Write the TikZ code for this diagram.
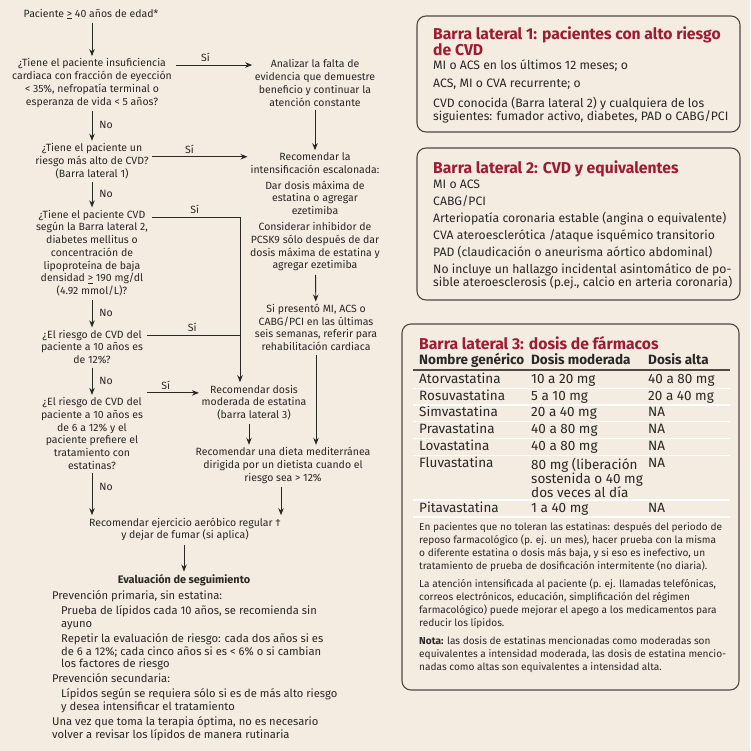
\documentclass[tikz,border=0pt]{standalone}
\usepackage{fontspec}
\setmainfont{Fira Sans}
\usetikzlibrary{arrows.meta, positioning}

\definecolor{pagebg}{HTML}{F4EBE1}
\definecolor{inkgray}{HTML}{2A2725}
\definecolor{boxline}{HTML}{4F4843}
\definecolor{titlered}{HTML}{9C1C31}

\begin{document}
\begin{tikzpicture}[
      x=1pt, y=-1pt,
      >={Stealth[length=7pt, width=5.5pt]},
      every node/.style={text=inkgray},
      flowtext/.style={align=center, inner sep=1.5pt, font=\fontsize{10.5}{12.7}\selectfont},
      flowarrow/.style={->, draw=inkgray, line width=0.9pt, shorten <=2pt, shorten >=1pt},
      flowline/.style={draw=inkgray, line width=0.9pt, shorten <=2pt},
      answer/.style={font=\fontsize{10.5}{12}\selectfont, inner sep=3pt},
      followtext/.style={anchor=north west, align=left, inner sep=0pt, font=\fontsize{11.2}{12.7}\selectfont},
      sidebox/.style={draw=boxline, line width=1.1pt, rounded corners=9pt, inner sep=0pt},
      sidetitle/.style={anchor=north west, align=left, inner sep=0pt, text=titlered,
          font=\fontsize{15.7}{15.4}\selectfont\bfseries},
      sideitems/.style={anchor=north west, align=left, inner sep=0pt, font=\fontsize{12.2}{13}\selectfont},
      sidenote/.style={anchor=north west, align=left, inner sep=0pt, font=\fontsize{10.1}{13}\selectfont},
      cell/.style={anchor=west, inner sep=0pt, text height=9.5pt, text depth=3pt, font=\fontsize{13.5}{14}\selectfont},
      headcell/.style={cell, font=\fontsize{13.5}{14}\selectfont\bfseries},
      cellblock/.style={anchor=north west, align=left, inner sep=0pt, font=\fontsize{13.5}{14}\selectfont},
      rowrule/.style={draw=white, line width=1.2pt},
  ]

  \path[use as bounding box, fill=pagebg] (0,0) rectangle (750,751);

  % --- Flowchart, left column ---
  \node[flowtext] (start) at (91,14) {Paciente \underline{>} 40 años de edad*};
  \node[flowtext] (q1) at (92,83) {¿Tiene el paciente insuficiencia\\cardiaca con fracción de eyección\\< 35\%, nefropatía terminal o\\esperanza de vida < 5 años?};
  \node[flowtext] (q2) at (92,161) {¿Tiene el paciente un\\riesgo más alto de CVD?\\(Barra lateral 1)};
  \node[flowtext] (q3) at (92,253) {¿Tiene el paciente CVD\\según la Barra lateral 2,\\diabetes mellitus o\\concentración de\\lipoproteína de baja\\densidad \underline{>} 190 mg/dl\\(4.92 mmol/L)?};
  \node[flowtext] (q4) at (92,347) {¿El riesgo de CVD del\\paciente a 10 años es\\de 12\%?};
  \node[flowtext] (q5) at (92,433.5) {¿El riesgo de CVD del\\paciente a 10 años es\\de 6 a 12\% y el\\paciente prefiere el\\tratamiento con\\estatinas?};

  % --- Flowchart, right column ---
  \node[flowtext] (a1) at (315,83) {Analizar la falta de\\evidencia que demuestre\\beneficio y continuar la\\atención constante};
  \node[flowtext] (r1) at (315,212) {Recomendar la\\intensificación escalonada:\\[3pt]
      Dar dosis máxima de\\estatina o agregar\\ezetimiba\\[3.5pt]
      Considerar inhibidor de\\PCSK9 sólo después de dar\\dosis máxima de estatina y\\agregar ezetimiba};
  \node[flowtext] (r2) at (316,327.5) {Si presentó MI, ACS o\\CABG/PCI en las últimas\\seis semanas, referir para\\rehabilitación cardiaca};
  \node[flowtext] (r3) at (254,402.5) {Recomendar dosis\\moderada de estatina\\(barra lateral 3)};
  \node[flowtext] (diet) at (283,465.5) {Recomendar una dieta mediterránea\\dirigida por un dietista cuando el\\riesgo sea > 12\%};

  % --- Bottom ---
  \node[flowtext] (exer) at (185,529.5) {Recomendar ejercicio aeróbico regular †\\y dejar de fumar (si aplica)};
  \node[flowtext, font=\fontsize{10.9}{12.7}\selectfont\bfseries] (evaltitle) at (184,580) {Evaluación de seguimiento};
  \node[followtext] (follow) at (52,590.5) {Prevención primaria, sin estatina:\\[2.3pt]
      \hspace*{9pt}Prueba de lípidos cada 10 años, se recomienda sin\\
      \hspace*{9pt}ayuno\\[2.3pt]
      \hspace*{9pt}Repetir la evaluación de riesgo: cada dos años si es\\
      \hspace*{9pt}de 6 a 12\%; cada cinco años si es < 6\% o si cambian\\
      \hspace*{9pt}los factores de riesgo\\[2.3pt]
      Prevención secundaria:\\[2.3pt]
      \hspace*{9pt}Lípidos según se requiera sólo si es de más alto riesgo\\
      \hspace*{9pt}y desea intensificar el tratamiento\\[2.3pt]
      Una vez que toma la terapia óptima, no es necesario\\
      volver a revisar los lípidos de manera rutinaria};

  % --- Connectors ---
  \coordinate (dropx) at (240,0);
  \draw[flowarrow] (q1.north |- start.south) -- (q1.north);
  \draw[flowarrow] ([yshift=-8pt]q1.north east) -- ([yshift=-8pt]q1.north east -| a1.west)
      node[answer, pos=0.4, above] {Sí};
  \draw[flowarrow] (a1) -- (r1);
  \draw[flowarrow] (q1) -- (q2) node[answer, midway, right=4pt] {No};
  \draw[flowarrow] ([yshift=-15pt]q2.north east) -- ([yshift=-15pt]q2.north east -| r1.west)
      node[answer, pos=0.4, above] {Sí};
  \draw[flowarrow] (q2) -- (q3) node[answer, midway, right=4pt] {No};
  \draw[flowarrow] ([yshift=-9pt]q3.north east) -- ([yshift=-9pt]q3.north east -| dropx)
      node[answer, midway, above] {Sí} -- (dropx |- r3.north);
  \draw[flowline] ([yshift=-7pt]q4.north east) -- ([yshift=-7pt]q4.north east -| dropx)
      node[answer, midway, above] {Sí};
  \draw[flowarrow] (q3) -- (q4) node[answer, midway, right=4pt] {No};
  \draw[flowarrow] (q4) -- (q5) node[answer, midway, right=4pt] {No};
  \draw[flowarrow] ([yshift=3pt]q5.north east) -- ([yshift=3pt]q5.north east -| r3.west)
      node[answer, pos=0.38, above] {Sí};
  \draw[flowarrow] (r1) -- (r2);
  \draw[flowarrow] ([xshift=-5pt]r3.south) -- ([xshift=-5pt]r3.south |- diet.north);
  \draw[flowarrow] (r2.south) -- (r2.south |- diet.north);
  \draw[flowarrow] ([xshift=-2pt]diet.south) -- ([xshift=-2pt]diet.south |- exer.north);
  \draw[flowarrow] (q5.south) -- (q5.south |- exer.north) node[answer, pos=0.35, right=4pt] {No};
  \draw[flowarrow] (exer.south -| evaltitle.north) -- (evaltitle.north);

  % --- Sidebar 1 ---
  \node[sidebox, minimum width=323pt, minimum height=116pt] (bar1) at (578.5,74) {};
  \node[sidetitle] (bar1title) at (433,26.5) {Barra lateral 1: pacientes con alto riesgo\\de CVD};
  \node[sideitems] (bar1items) at (433,59.5) {MI o ACS en los últimos 12 meses; o\\[5.5pt]
      ACS, MI o CVA recurrente; o\\[6.5pt]
      CVD conocida (Barra lateral 2) y cualquiera de los\\
      siguientes: fumador activo, diabetes, PAD o CABG/PCI};

  % --- Sidebar 2 ---
  \node[sidebox, minimum width=323pt, minimum height=152pt] (bar2) at (578.5,224) {};
  \node[sidetitle] (bar2title) at (433,160.5) {Barra lateral 2: CVD y equivalentes};
  \node[sideitems] (bar2items) at (433,179.5) {MI o ACS\\[4pt]
      CABG/PCI\\[4pt]
      Arteriopatía coronaria estable (angina o equivalente)\\[4pt]
      CVA ateroesclerótica /ataque isquémico transitorio\\[4pt]
      PAD (claudicación o aneurisma aórtico abdominal)\\[4pt]
      No incluye un hallazgo incidental asintomático de po-\\
      sible ateroesclerosis (p.ej., calcio en arteria coronaria)};

  % --- Sidebar 3: dose table ---
  \node[sidebox, minimum width=337pt, minimum height=366pt] (bar3) at (570.5,507) {};
  \node[sidetitle] (bar3title) at (419,336) {Barra lateral 3: dosis de fármacos};
  \node[headcell] (headname) at (419,361) {Nombre genérico};
  \node[headcell] (headmid) at (531,361) {Dosis moderada};
  \node[headcell] (headhigh) at (648,361) {Dosis alta};
  \draw[draw=boxline, line width=1.3pt] (413,370) -- (730,370);

  \foreach \ry/\drug/\dmid/\dhigh [count=\i] in {380/Atorvastatina/10 a 20 mg/40 a 80 mg,
      397/Rosuvastatina/5 a 10 mg/20 a 40 mg, 413/Simvastatina/20 a 40 mg/NA,
      430/Pravastatina/40 a 80 mg/NA, 447/Lovastatina/40 a 80 mg/NA, 509/Pitavastatina/1 a 40 mg/NA} {
    \node[cell] (drug\i) at (419,\ry) {\drug};
    \node[cell] (dmid\i) at (531,\ry) {\dmid};
    \node[cell] (dhigh\i) at (648,\ry) {\dhigh};
  }
  \node[cell] (fluvadrug) at (419,464) {Fluvastatina};
  \node[cellblock] (fluvamid) at ([xshift=112pt]fluvadrug.north west) {80 mg (liberación\\sostenida o 40 mg\\dos veces al día};
  \node[cell] (fluvahigh) at (648,464) {NA};

  \foreach \ry in {388.5, 405, 421.5, 438.5, 455.5, 500, 517}
    \draw[rowrule] (413,\ry) -- (730,\ry);

  \node[sidenote] (notes) at (419,522) {En pacientes que no toleran las estatinas: después del periodo de\\
      reposo farmacológico (p. ej. un mes), hacer prueba con la misma\\
      o diferente estatina o dosis más baja, y si eso es inefectivo, un\\
      tratamiento de prueba de dosificación intermitente (no diaria).\\[5pt]
      La atención intensificada al paciente (p. ej. llamadas telefónicas,\\
      correos electrónicos, educación, simplificación del régimen\\
      farmacológico) puede mejorar el apego a los medicamentos para\\
      reducir los lípidos.\\[5pt]
      \textbf{Nota:} las dosis de estatinas mencionadas como moderadas son\\
      equivalentes a intensidad moderada, las dosis de estatina mencio-\\
      nadas como altas son equivalentes a intensidad alta.};

\end{tikzpicture}
\end{document}
